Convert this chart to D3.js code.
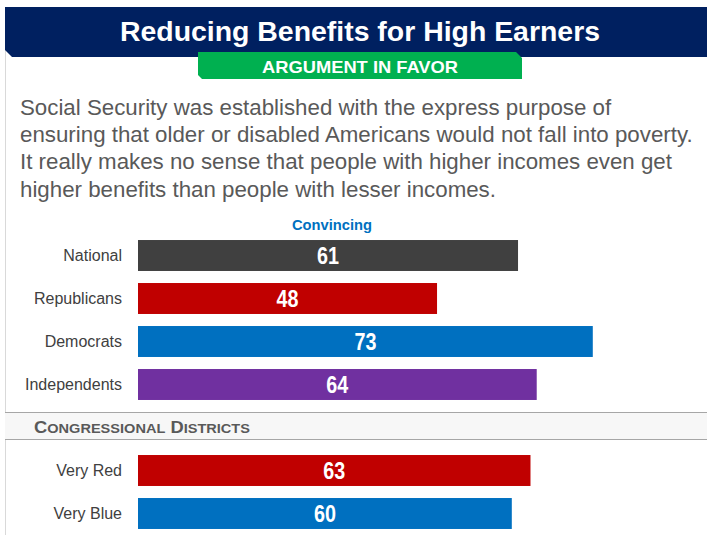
<!DOCTYPE html>
<html><head><meta charset="utf-8">
<script src="https://cdn.jsdelivr.net/npm/d3@7/dist/d3.min.js"></script>
<style>html,body{margin:0;padding:0;background:#fff;}svg{display:block;}</style>
</head><body><div id="chart"></div>
<script>
const title = "Reducing Benefits for High Earners";
const subtitle = "ARGUMENT IN FAVOR";
const bodyLines = [
  "Social Security was established with the express purpose of",
  "ensuring that older or disabled Americans would not fall into poverty.",
  "It really makes no sense that people with higher incomes even get",
  "higher benefits than people with lesser incomes."
];
const seriesName = "Convincing";
const groupCategories = ["National", "Republicans", "Democrats", "Independents"];
const groupValues = [61, 48, 73, 64];
const groupColors = ["#404040", "#c00000", "#0070c0", "#7030a0"];
const sectionTitle = "Congressional Districts";
const districtCategories = ["Very Red", "Very Blue"];
const districtValues = [63, 60];
const districtColors = ["#c00000", "#0070c0"];

const W = 707, H = 535;
const FONT = "Liberation Sans, Arial, sans-serif";
const svg = d3.select("#chart").append("svg").attr("width", W).attr("height", H);

// left slide border
svg.append("line").attr("x1", 5.5).attr("x2", 5.5).attr("y1", 50).attr("y2", H)
  .attr("stroke", "#d9d9d9").attr("stroke-width", 1);

// navy banner
svg.append("path").attr("d", "M5,7 L707,7 L707,57 L12,57 L5,50 Z").attr("fill", "#002060");
svg.append("text").attr("x", 120).attr("y", 41)
  .attr("font-family", FONT).attr("font-weight", "bold")
  .attr("font-size", 27).attr("fill", "#fff")
  .attr("textLength", 480).attr("lengthAdjust", "spacingAndGlyphs").text(title);

// green band
svg.append("path").attr("d", "M198,52 L516,52 L522,58 L522,79 L202,79 L198,75 Z").attr("fill", "#00b050");
svg.append("text").attr("x", 262).attr("y", 73)
  .attr("font-family", FONT).attr("font-weight", "bold")
  .attr("font-size", 17).attr("fill", "#fff")
  .attr("textLength", 196).attr("lengthAdjust", "spacingAndGlyphs").text(subtitle);

// paragraph
svg.append("g").selectAll("text").data(bodyLines).join("text")
  .attr("x", 20).attr("y", (d, i) => 115 + i * 27.2)
  .attr("font-family", FONT)
  .attr("font-size", 22.3).attr("fill", "#595959").text(d => d);

// scale
const x = d3.scaleLinear().domain([0, 100]).range([138, 761]);

svg.append("text").attr("x", 332).attr("y", 230).attr("text-anchor", "middle")
  .attr("font-family", FONT).attr("font-weight", "bold")
  .attr("font-size", 14.7).attr("fill", "#0070c0").text(seriesName);

function drawBars(cats, vals, cols, y0) {
  const y = d3.scaleBand().domain(cats).range([y0, y0 + cats.length * 43]).paddingInner(0.28).paddingOuter(0.14);
  const g = svg.append("g");
  const data = cats.map((c, i) => ({c, v: vals[i], col: cols[i]}));
  g.selectAll("rect").data(data).join("rect")
    .attr("x", x(0)).attr("y", d => y(d.c)).attr("width", d => x(d.v) - x(0))
    .attr("height", y.bandwidth()).attr("fill", d => d.col);
  g.selectAll("text.val").data(data).join("text").attr("class", "val")
    .attr("x", d => (x(0) + x(d.v)) / 2).attr("y", d => y(d.c) + y.bandwidth() / 2 + 8)
    .attr("text-anchor", "middle")
    .attr("font-family", FONT)
    .attr("font-weight", "bold").attr("font-size", 23).attr("fill", "#fff")
    .attr("textLength", 22).attr("lengthAdjust", "spacingAndGlyphs").text(d => d.v);
  g.selectAll("text.cat").data(data).join("text").attr("class", "cat")
    .attr("x", 122).attr("y", d => y(d.c) + y.bandwidth() / 2 + 5.5)
    .attr("text-anchor", "end")
    .attr("font-family", FONT)
    .attr("font-size", 16).attr("fill", "#404040").text(d => d.c);
}
drawBars(groupCategories, groupValues, groupColors, 234);

// section band
svg.append("rect").attr("x", 5).attr("y", 412).attr("width", W - 5).attr("height", 27).attr("fill", "#f7f7f7");
svg.append("line").attr("x1", 5).attr("x2", W).attr("y1", 412.5).attr("y2", 412.5).attr("stroke", "#a6a6a6");
svg.append("line").attr("x1", 5).attr("x2", W).attr("y1", 439.5).attr("y2", 439.5).attr("stroke", "#a6a6a6");
const st = svg.append("text").attr("x", 34).attr("y", 433)
  .attr("font-family", FONT).attr("font-weight", "bold")
  .attr("fill", "#595959").attr("textLength", 216).attr("lengthAdjust", "spacingAndGlyphs");
sectionTitle.split(" ").forEach((w, i) => {
  st.append("tspan").attr("font-size", 17).text((i ? " " : "") + w[0].toUpperCase());
  st.append("tspan").attr("font-size", 13.5).text(w.slice(1).toUpperCase());
});

drawBars(districtCategories, districtValues, districtColors, 449);
</script></body></html>
